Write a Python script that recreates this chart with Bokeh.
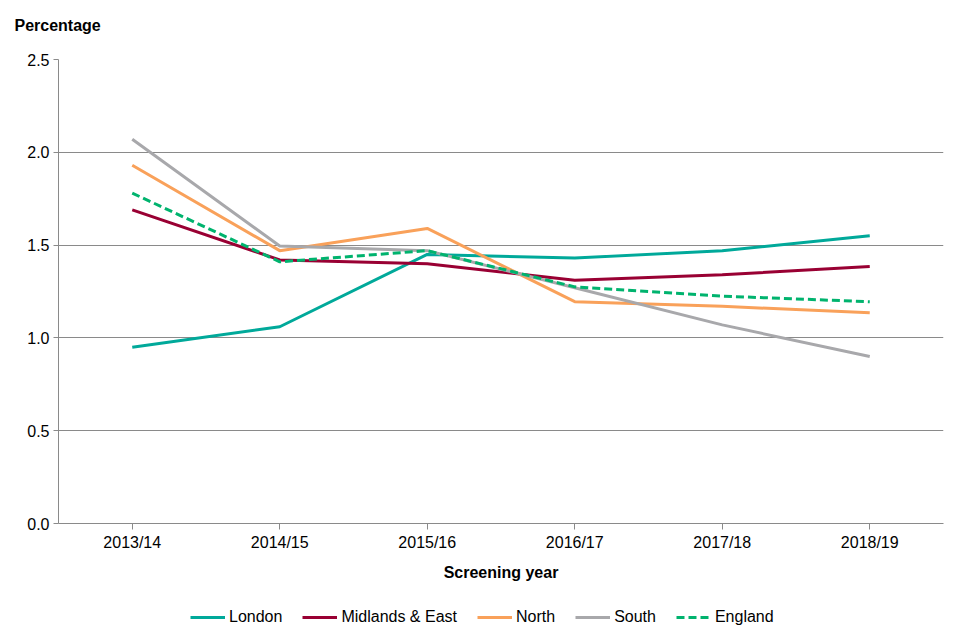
from bokeh.plotting import figure
from bokeh.models import Legend, LegendItem, FixedTicker, Range1d, Title
from bokeh.layouts import column
from bokeh.embed import file_html
from bokeh.resources import INLINE

years = ["2013/14", "2014/15", "2015/16", "2016/17", "2017/18", "2018/19"]
london = [0.95, 1.06, 1.45, 1.43, 1.47, 1.55]
midlands = [1.69, 1.42, 1.40, 1.31, 1.34, 1.385]
north = [1.93, 1.47, 1.59, 1.195, 1.17, 1.135]
south = [2.07, 1.495, 1.47, 1.27, 1.07, 0.90]
england = [1.78, 1.41, 1.47, 1.275, 1.225, 1.195]
y_ticks = [0.0, 0.5, 1.0, 1.5, 2.0, 2.5]

FONT = "Liberation Sans"
GRID = "#8a8a8a"

p = figure(x_range=years, y_range=Range1d(0, 2.5), frame_width=885, frame_height=464,
           output_backend="svg", toolbar_location=None,
           min_border_left=58, min_border_right=17, min_border_top=59, min_border_bottom=75)
p.x_range.range_padding = 0
p.outline_line_color = None

series = [
    ("London", london, "#00A99A", "solid"),
    ("Midlands & East", midlands, "#990033", "solid"),
    ("North", north, "#F9A15A", "solid"),
    ("South", south, "#A8A8AB", "solid"),
    ("England", england, "#00B36E", "8 4"),
]
for name, vals, col, dash in series:
    p.line(years, vals, line_color=col, line_width=3, line_dash=dash)

p.title.text = "Percentage"
p.title.text_font = FONT
p.title.text_font_size = "16px"
p.title.text_font_style = "bold"
p.title.text_color = "black"
p.title.align = "left"
p.title.offset = -44
p.title.standoff = 29

# small spacer between the title and the plot frame
p.add_layout(Title(text=" ", text_font_size="1px", standoff=8), "above")

p.yaxis.ticker = FixedTicker(ticks=y_ticks)
p.yaxis.major_label_overrides = {t: f"{t:.1f}" for t in y_ticks}
p.yaxis.major_tick_out = 5
p.yaxis.major_tick_in = 0
p.yaxis.minor_tick_line_color = None
p.yaxis.axis_line_color = GRID
p.yaxis.major_tick_line_color = GRID
p.yaxis.major_label_standoff = 4

p.xaxis.axis_label = "Screening year"
p.xaxis.axis_label_text_font = FONT
p.xaxis.axis_label_text_font_size = "16px"
p.xaxis.axis_label_text_font_style = "bold"
p.xaxis.axis_label_standoff = 10
p.xaxis.major_tick_out = 6
p.xaxis.major_tick_in = 0
p.xaxis.axis_line_color = GRID
p.xaxis.major_tick_line_color = GRID
p.xaxis.major_label_standoff = 4

for ax in (p.xaxis, p.yaxis):
    ax.major_label_text_font = FONT
    ax.major_label_text_font_size = "16px"
    ax.major_label_text_color = "black"
    ax.axis_label_text_color = "black"

p.xgrid.grid_line_color = None
p.ygrid.grid_line_color = GRID
p.ygrid.grid_line_width = 1

# legend strip below the chart (its lines lie outside its visible range)
lf = figure(width=960, height=42, x_range=Range1d(0, 1), y_range=Range1d(10, 11),
            output_backend="svg", toolbar_location=None,
            min_border_left=0, min_border_right=0, min_border_top=0, min_border_bottom=0)
lf.axis.visible = False
lf.grid.visible = False
lf.outline_line_color = None
items = []
for name, vals, col, dash in series:
    r = lf.line(list(range(len(vals))), vals, line_color=col, line_width=3, line_dash=dash)
    items.append(LegendItem(label=name, renderers=[r]))

legend = Legend(items=items, orientation="horizontal", location=(132, 13),
                label_text_font=FONT, label_text_font_size="16px", label_text_color="black",
                glyph_width=35, glyph_height=20, label_standoff=4, spacing=20,
                border_line_color=None, background_fill_alpha=0,
                margin=0, padding=0)
lf.add_layout(legend, "center")

layout = column(p, lf, spacing=0)
open("out.html", "w").write(file_html(layout, INLINE))
